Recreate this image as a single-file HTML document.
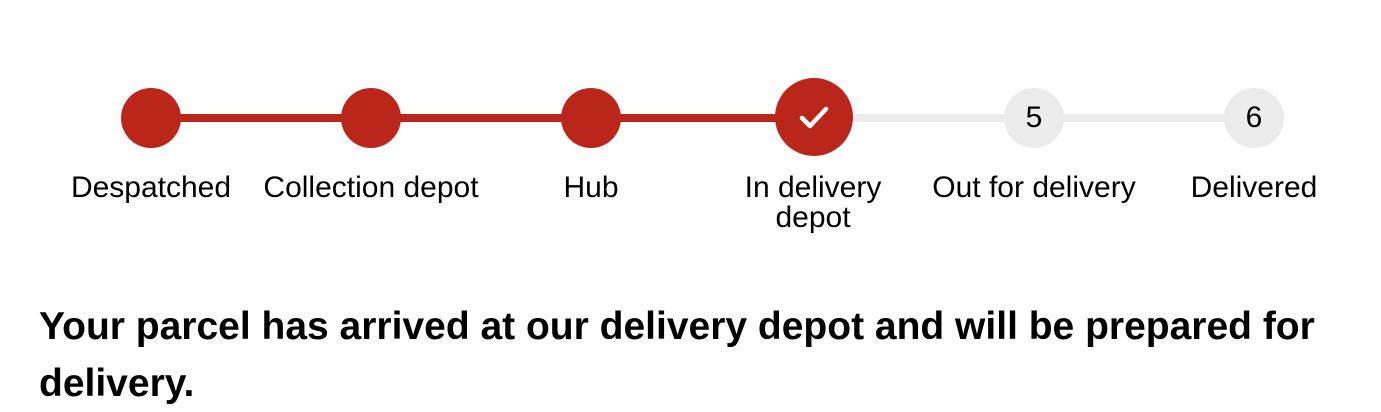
<!DOCTYPE html>
<html><head><style>
body{margin:0;width:1381px;height:400px;background:#fff;overflow:hidden;font-family:"Liberation Sans",Arial,sans-serif;position:relative}
.l{position:absolute;height:8px;top:114px}
.c{position:absolute;border-radius:50%;display:flex;align-items:center;justify-content:center;font-size:30px;color:#000}
.t{position:absolute;top:173px;width:260px;text-align:center;font-size:30px;line-height:30px;color:#000}
h1{position:absolute;left:39px;top:298px;margin:0;width:1330px;font-size:39px;line-height:57px;font-weight:bold}
</style></head><body>
<div class="l" style="left:151px;width:663px;background:#bb261b"></div>
<div class="l" style="left:814px;width:440px;background:#ececec"></div>
<div class="c" style="left:121px;top:88px;width:60px;height:60px;background:#bb261b"></div>
<div class="c" style="left:341px;top:88px;width:60px;height:60px;background:#bb261b"></div>
<div class="c" style="left:561px;top:88px;width:60px;height:60px;background:#bb261b"></div>
<div class="c" style="left:775px;top:78px;width:78px;height:78px;background:#bb261b"><svg width="40" height="40" viewBox="0 0 40 40"><path d="M8 21 L16 29 L32 12" stroke="#fff" stroke-width="4.5" fill="none" stroke-linecap="round" stroke-linejoin="round"/></svg></div>
<div class="c" style="left:1004px;top:88px;width:60px;height:60px;background:#ececec">5</div>
<div class="c" style="left:1224px;top:88px;width:60px;height:60px;background:#ececec">6</div>
<div class="t" style="left:21px">Despatched</div>
<div class="t" style="left:241px">Collection depot</div>
<div class="t" style="left:461px">Hub</div>
<div class="t" style="left:683px">In delivery<br>depot</div>
<div class="t" style="left:904px">Out for delivery</div>
<div class="t" style="left:1124px">Delivered</div>
<h1>Your parcel has arrived at our delivery depot and will be prepared for delivery.</h1>
</body></html>
